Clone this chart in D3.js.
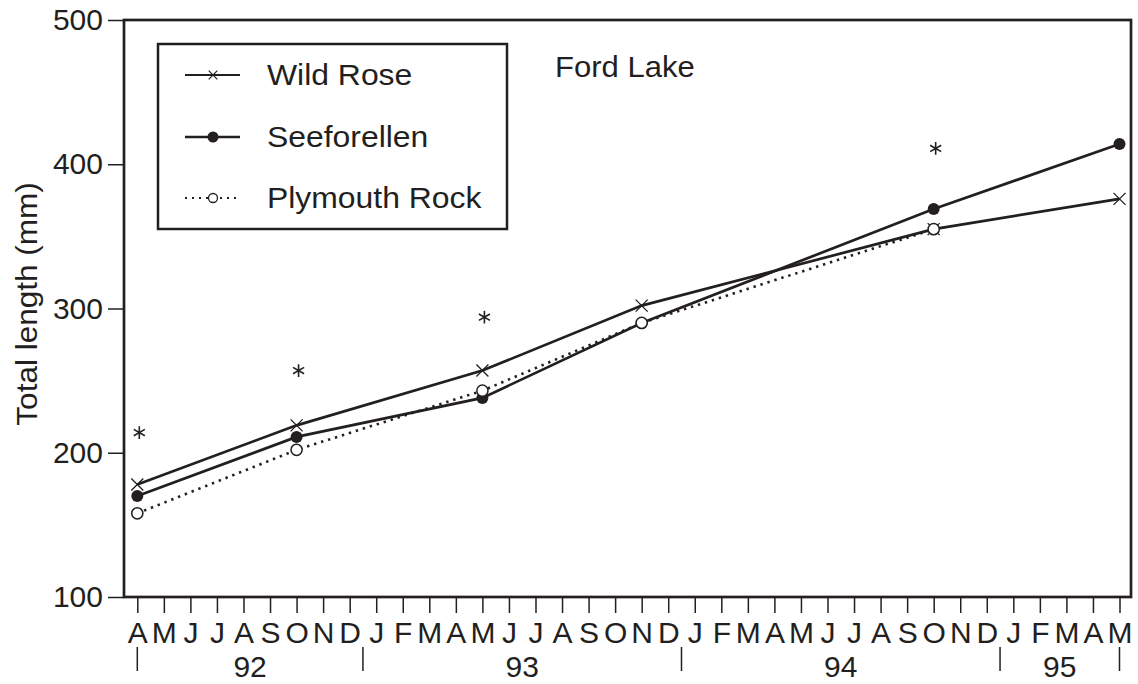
<!DOCTYPE html>
<html>
<head>
<meta charset="utf-8">
<script src="https://cdnjs.cloudflare.com/ajax/libs/d3/7.8.5/d3.min.js"></script>
<style>
  html, body { margin: 0; padding: 0; background: #fff; }
  svg { display: block; font-family: "Liberation Sans", Arial, Helvetica, sans-serif; }
</style>
</head>
<body>
<svg id="chart" width="1138" height="684"></svg>
<script>
// ---- data ----
const monthLabels = ["A","M","J","J","A","S","O","N","D","J","F","M","A","M","J","J","A","S","O","N","D","J","F","M","A","M","J","J","A","S","O","N","D","J","F","M","A","M"];
const yearLabels = ["92","93","94","95"];
const yearBounds = [0, 8.5, 20.5, 32.5, 37];   // month-index boundaries of each year
const yTicks = [100, 200, 300, 400, 500];

// sample dates as months since April 1992
const sampleMonths = [0, 6, 13, 19, 30, 37];
const wildRose     = [178, 219, 257, 302, 355, 376];
const seeforellen  = [170, 211, 238, 290, 369, 414];
const plymouthRock = [158, 202, 243, 290, 355];
const seriesNames  = ["Wild Rose", "Seeforellen", "Plymouth Rock"];

// significance markers
const starMonths = [0, 6, 13, 30];
const starValues = [214, 257, 294, 411];

const lakeLabel = "Ford Lake";
const yTitle = "Total length (mm)";

// ---- layout ----
const svg = d3.select("#chart");
const L = 124, R = 1131, T = 20, B = 597;
const x = d3.scaleLinear().domain([0, 37]).range([137.3, 1119.5]);
const y = d3.scaleLinear().domain([100, 500]).range([B, T]);
const ink = "#231f20";
const FS = 30;

// y axis
const yAxis = svg.append("g").attr("transform", `translate(${L},0)`)
  .call(d3.axisLeft(y).tickValues(yTicks).tickSize(16).tickPadding(5).tickFormat(d3.format("d")));
yAxis.select(".domain").remove();
yAxis.selectAll(".tick line").attr("stroke", ink).attr("stroke-width", 1.5);
yAxis.selectAll(".tick text").attr("fill", ink).attr("font-size", FS).attr("font-family", "Liberation Sans, Arial, sans-serif");

// x axis (months)
const xAxis = svg.append("g").attr("transform", `translate(0,${B})`)
  .call(d3.axisBottom(x).tickValues(d3.range(monthLabels.length)).tickSize(16).tickPadding(9).tickFormat(i => monthLabels[i]));
xAxis.select(".domain").remove();
xAxis.selectAll(".tick line").attr("stroke", ink).attr("stroke-width", 1.5);
xAxis.selectAll(".tick text").attr("fill", ink).attr("font-size", FS).attr("font-family", "Liberation Sans, Arial, sans-serif");

// year separators and labels
svg.append("g").selectAll("line").data(yearBounds).join("line")
  .attr("x1", d => x(d)).attr("x2", d => x(d))
  .attr("y1", 647).attr("y2", 671)
  .attr("stroke", ink).attr("stroke-width", 1.5);
svg.append("g").selectAll("text").data(yearLabels).join("text")
  .attr("x", (d, i) => (x(yearBounds[i]) + x(yearBounds[i + 1])) / 2)
  .attr("y", 677)
  .attr("text-anchor", "middle")
  .attr("font-size", FS).attr("fill", ink)
  .text(d => d);

// frame
svg.append("rect").attr("x", L).attr("y", T).attr("width", R - L).attr("height", B - T)
  .attr("fill", "none").attr("stroke", ink).attr("stroke-width", 2.7);

// y title
svg.append("text")
  .attr("transform", `translate(37,304) rotate(-90) scale(1.05,1)`)
  .attr("text-anchor", "middle")
  .attr("font-size", FS).attr("fill", ink)
  .text(yTitle);

// lines
const lineGen = d3.line().x(d => x(d[0])).y(d => y(d[1]));
const pts = vals => vals.map((v, i) => [sampleMonths[i], v]);

function crossPath(s) {
  return `M${-s},${-s}L${s},${s}M${-s},${s}L${s},${-s}`;
}

// Wild Rose
svg.append("path").datum(pts(wildRose)).attr("d", lineGen)
  .attr("fill", "none").attr("stroke", ink).attr("stroke-width", 2.7);
svg.append("g").selectAll("path").data(pts(wildRose)).join("path")
  .attr("transform", d => `translate(${x(d[0])},${y(d[1])})`)
  .attr("d", crossPath(6)).attr("stroke", ink).attr("stroke-width", 1.3).attr("fill", "none");

// Seeforellen
svg.append("path").datum(pts(seeforellen)).attr("d", lineGen)
  .attr("fill", "none").attr("stroke", ink).attr("stroke-width", 2.7);
svg.append("g").selectAll("circle").data(pts(seeforellen)).join("circle")
  .attr("cx", d => x(d[0])).attr("cy", d => y(d[1])).attr("r", 6)
  .attr("fill", ink);

// Plymouth Rock
svg.append("path").datum(pts(plymouthRock)).attr("d", lineGen)
  .attr("fill", "none").attr("stroke", ink).attr("stroke-width", 2.6)
  .attr("stroke-dasharray", "2.4,4.9");
svg.append("g").selectAll("circle").data(pts(plymouthRock)).join("circle")
  .attr("cx", d => x(d[0])).attr("cy", d => y(d[1])).attr("r", 5.6)
  .attr("fill", "#fff").attr("stroke", ink).attr("stroke-width", 1.5);

// asterisks (significance markers)
const star = d3.symbol().type(d3.symbolAsterisk).size(115);
svg.append("g").selectAll("path").data(starMonths).join("path")
  .attr("transform", (d, i) => `translate(${x(d) + 2},${y(starValues[i])})`)
  .attr("d", star)
  .attr("fill", "none").attr("stroke", ink).attr("stroke-width", 1.6);

// Ford Lake
svg.append("text").attr("transform", "translate(555,77) scale(1.07,1)")
  .attr("font-size", 29).attr("fill", ink).text(lakeLabel);

// legend
const lg = svg.append("g");
lg.append("rect").attr("x", 158).attr("y", 44).attr("width", 349).attr("height", 185)
  .attr("fill", "#fff").attr("stroke", ink).attr("stroke-width", 2.5);
const rowY = [75, 137, 198];
const lx1 = 185, lx2 = 240, lmx = 213;
// Wild Rose
lg.append("line").attr("x1", lx1).attr("x2", lx2).attr("y1", rowY[0]).attr("y2", rowY[0])
  .attr("stroke", ink).attr("stroke-width", 2.2);
lg.append("path").attr("transform", `translate(${lmx},${rowY[0]})`).attr("d", crossPath(4.3))
  .attr("stroke", ink).attr("stroke-width", 1.2).attr("fill", "none");
// Seeforellen
lg.append("line").attr("x1", lx1).attr("x2", lx2).attr("y1", rowY[1]).attr("y2", rowY[1])
  .attr("stroke", ink).attr("stroke-width", 2.7);
lg.append("circle").attr("cx", lmx).attr("cy", rowY[1]).attr("r", 5.5).attr("fill", ink);
// Plymouth Rock
lg.append("line").attr("x1", lx1).attr("x2", lx2).attr("y1", rowY[2]).attr("y2", rowY[2])
  .attr("stroke", ink).attr("stroke-width", 2).attr("stroke-dasharray", "2,5");
lg.append("circle").attr("cx", lmx).attr("cy", rowY[2]).attr("r", 4.5)
  .attr("fill", "#fff").attr("stroke", ink).attr("stroke-width", 1.3);
lg.selectAll("text.lbl").data(seriesNames).join("text").attr("class", "lbl")
  .attr("transform", (d, i) => `translate(267,${rowY[i] + 10}) scale(1.1,1)`)
  .attr("font-size", 29).attr("fill", ink).text(d => d);
</script>
</body>
</html>
